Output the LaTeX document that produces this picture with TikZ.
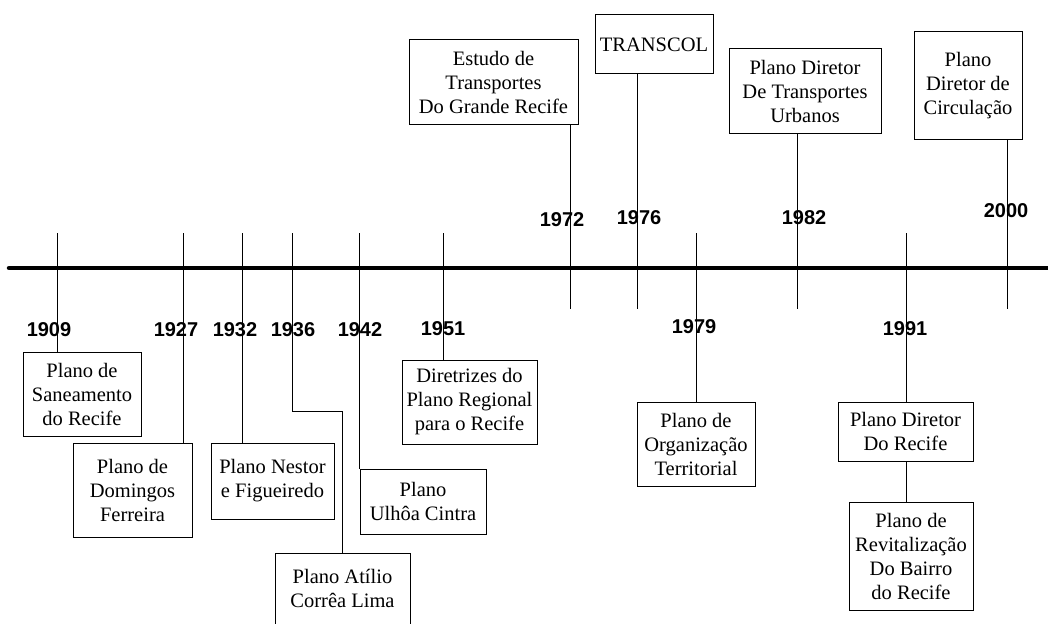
\documentclass[tikz,border=0pt]{standalone}
\usepackage{fontspec}
\setmainfont{Liberation Serif}
\newfontfamily\yearfont{Liberation Sans}
\usepackage{tikz}
\usetikzlibrary{positioning,calc}

\begin{document}
\begin{tikzpicture}[
      x=1pt, y=-1pt,
      plan/.style={draw, line width=1pt, align=center, inner sep=2pt,
                   font=\fontsize{20.5}{24}\selectfont},
      year/.style={inner sep=0pt, font=\yearfont\bfseries\fontsize{20}{24}\selectfont},
      tick/.style={line width=0.9pt},
      link/.style={line width=1pt},
      axis/.style={line width=4.5pt, line cap=round},
    ]
    \useasboundingbox (0,0) rectangle (1048,623);
    % main time axis
    \draw[axis] (9,268) -- (1050,268);
    % ticks and axis points for every year
    \foreach \yr/\x in {1909/57,1927/183,1932/242,1936/292,1942/359,1951/443,
                        1972/570,1976/637,1979/696,1982/797,1991/906,2000/1007}{
      \coordinate (y\yr) at (\x,268);
      \draw[tick] (\x,233) -- (\x,309);
    }
    % year labels below the axis
    \node[year] (l1909) at (49,330)  {1909};
    \node[year] (l1927) at (176,330) {1927};
    \node[year] (l1932) at (235,330) {1932};
    \node[year] (l1936) at (293,330) {1936};
    \node[year] (l1942) at (360,330) {1942};
    \node[year] (l1951) at (443,329) {1951};
    \node[year] (l1979) at (694,327) {1979};
    \node[year] (l1991) at (905,329) {1991};
    % year labels above the axis
    \node[year] (l1972) at (562,220)  {1972};
    \node[year] (l1976) at (639,218)  {1976};
    \node[year] (l1982) at (804,218)  {1982};
    \node[year] (l2000) at (1006,211) {2000};
    % plans below the axis
    \node[plan, minimum width=118pt, minimum height=84pt] (saneamento) at (82,394)
      {Plano de\\Saneamento\\do Recife};
    \node[plan, minimum width=119pt, minimum height=94pt] (domingos) at (132.5,490)
      {Plano de\\Domingos\\Ferreira};
    \node[plan, minimum width=123pt, minimum height=76pt] (nestor) at (272.5,481)
      {Plano Nestor\\e Figueiredo};
    \node[plan, minimum width=135pt, minimum height=71pt] (atilio) at (342.5,588.5)
      {Plano Atílio\\Corrêa Lima};
    \node[plan, minimum width=126pt, minimum height=65pt] (ulhoa) at (423,501.5)
      {Plano\\Ulhôa Cintra};
    \node[plan, minimum width=135pt, minimum height=84pt] (diretrizes) at (469.5,402)
      {Diretrizes do\\Plano Regional\\para o Recife};
    \node[plan, minimum width=118pt, minimum height=84pt] (organizacao) at (696,444)
      {Plano de\\Organização\\Territorial};
    \node[plan, minimum width=135pt, minimum height=59pt] (diretor) at (905.5,431.5)
      {Plano Diretor\\Do Recife};
    \node[plan, minimum width=124pt, minimum height=108pt] (revitalizacao) at (911,556)
      {Plano de\\Revitalização\\Do Bairro\\do Recife};
    % plans above the axis
    \node[plan, minimum width=169pt, minimum height=84pt] (estudo) at (493.5,82)
      {Estudo de\\Transportes\\Do Grande Recife};
    \node[plan, minimum width=118pt, minimum height=59pt] (transcol) at (654,44.5)
      {TRANSCOL};
    \node[plan, minimum width=152pt, minimum height=84pt] (urbanos) at (805,91)
      {Plano Diretor\\De Transportes\\Urbanos};
    \node[plan, minimum width=108pt, minimum height=107pt] (circulacao) at (968,85.5)
      {Plano\\Diretor de\\Circulação};
    % connectors from the axis to the plans
    \draw[link] (y1909) -- (y1909 |- saneamento.north);
    \draw[link] (y1927) -- (y1927 |- domingos.north);
    \draw[link] (y1932) -- (y1932 |- nestor.north);
    \draw[link] (y1936) -- ++(0,143) -| (atilio.north);
    \draw[link] (y1942) -- (y1942 |- ulhoa.north);
    \draw[link] (y1951) -- (y1951 |- diretrizes.north);
    \draw[link] (y1979) -- (y1979 |- organizacao.north);
    \draw[link] (y1991) -- (y1991 |- diretor.north);
    \draw[link] (y1991 |- diretor.south) -- (y1991 |- revitalizacao.north);
    \draw[link] (y1972) -- (y1972 |- estudo.south);
    \draw[link] (y1976) -- (y1976 |- transcol.south);
    \draw[link] (y1982) -- (y1982 |- urbanos.south);
    \draw[link] (y2000) -- (y2000 |- circulacao.south);
  \end{tikzpicture}
\end{document}
